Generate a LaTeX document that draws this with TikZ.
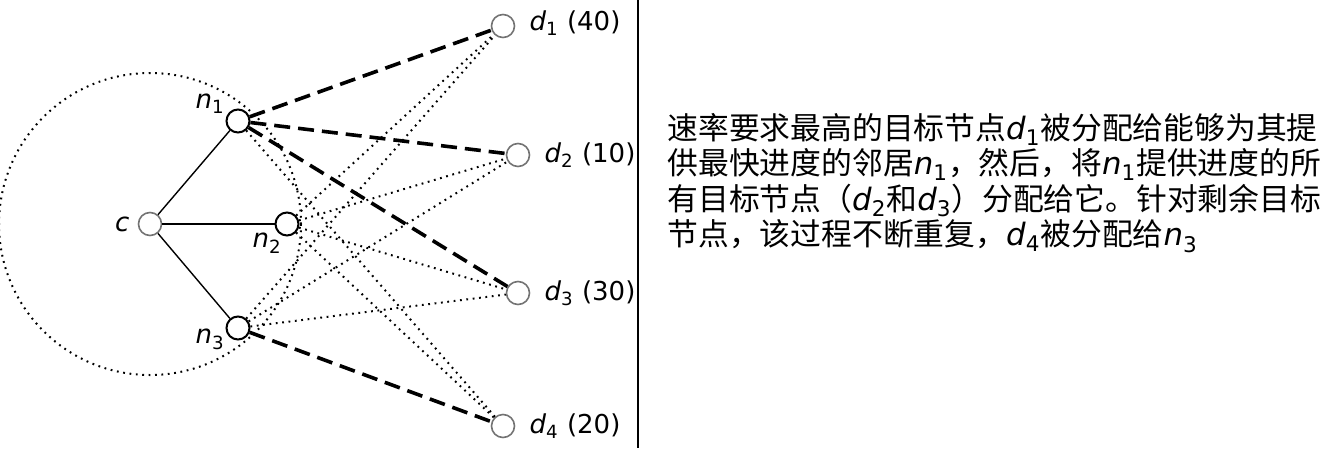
\documentclass[tikz,border=0pt]{standalone}
\usepackage{fontspec}
\setmainfont{DejaVu Sans}
\newfontfamily\cjk{Noto Sans CJK SC}
\usetikzlibrary{positioning}

\newcommand{\sym}[2]{{\normalfont\itshape #1}{\normalfont\textsubscript{#2}}}

\begin{document}
\begin{tikzpicture}[x=0.5pt, y=-0.5pt,
    agent/.style={circle, draw, line width=1pt, fill=white, minimum size=11.5pt, inner sep=0pt},
    target/.style={circle, draw=black!55, line width=0.8pt, fill=white, minimum size=11.5pt, inner sep=0pt},
    link/.style={line width=0.7pt},
    pick/.style={line width=1.8pt, dash pattern=on 8pt off 4pt},
    spare/.style={line width=1pt, dash pattern=on 0.9pt off 2.3pt},
    lbl/.style={font=\fontsize{13}{15}\selectfont, inner sep=1pt}]

    \useasboundingbox (0,0) rectangle (1320,450);

    % range of c
    \coordinate (ctr) at (150,224);
    \draw[spare] (ctr) circle[radius=151];

    % source, neighbours and targets
    \node[target] (c) at (ctr) {};
    \node[agent] (n1) at (238,121) {};
    \node[agent] (n2) at (287,224) {};
    \node[agent] (n3) at (238,328) {};
    \node[target] (d1) at (503,26) {};
    \node[target] (d2) at (518,155) {};
    \node[target] (d3) at (518,293) {};
    \node[target] (d4) at (503,426) {};

    % labels
    \node[lbl, left=3pt of c] (clab) {\textit{c}};
    \node[lbl, above left=-2pt and 1pt of n1] (n1lab) {\sym{n}{1}};
    \node[lbl, below left=-1pt and -3pt of n2] (n2lab) {\sym{n}{2}};
    \node[lbl, below left=-5pt and 1pt of n3] (n3lab) {\sym{n}{3}};
    \node[lbl, right=6pt of d1, yshift=1.5pt] (d1lab) {\sym{d}{1} (40)};
    \node[lbl, right=6pt of d2] (d2lab) {\sym{d}{2} (10)};
    \node[lbl, right=6pt of d3] (d3lab) {\sym{d}{3} (30)};
    \node[lbl, right=6pt of d4] (d4lab) {\sym{d}{4} (20)};

    % links
    \path
        (c) edge[link] (n1)
        (c) edge[link] (n2)
        (c) edge[link] (n3)
        (n1) edge[spare] (d4)
        (n2) edge[spare] (d1)
        (n2) edge[spare] (d2)
        (n2) edge[spare] (d3)
        (n2) edge[spare] (d4)
        (n3) edge[spare] (d1)
        (n3) edge[spare] (d2)
        (n3) edge[spare] (d3)
        (n1) edge[pick] (d1)
        (n1) edge[pick] (d2)
        (n1) edge[pick] (d3)
        (n3) edge[pick] (d4);

    % divider
    \coordinate (top) at (638,0);
    \coordinate (bot) at (638,448);
    \draw[line width=1pt] (top) -- (bot);

    % explanation
    \node[anchor=north west, align=left, inner sep=0pt,
        font=\cjk\fontsize{15.4}{17.75}\selectfont] (note) at (667,113)
        {速率要求最高的目标节点\sym{d}{1}被分配给能够为其提\\
         供最快进度的邻居\sym{n}{1}，然后，将\sym{n}{1}提供进度的所\\
         有目标节点（\sym{d}{2}和\sym{d}{3}）分配给它。针对剩余目标\\
         节点，该过程不断重复，\sym{d}{4}被分配给\sym{n}{3}};
\end{tikzpicture}
\end{document}
